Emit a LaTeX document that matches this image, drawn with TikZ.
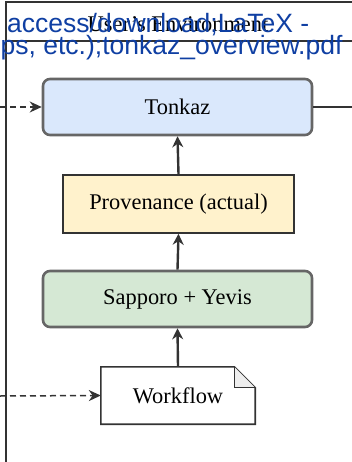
\documentclass[tikz,border=0pt]{standalone}
\usepackage{fontspec}
\setmainfont{Liberation Serif}
\newfontfamily\linkfont{Liberation Sans}
\usetikzlibrary{arrows.meta}
\definecolor{tkblue}{HTML}{DAE8FC}
\definecolor{tkyellow}{HTML}{FFF2CC}
\definecolor{tkgreen}{HTML}{D5E8D4}
\definecolor{tkgray}{HTML}{666666}
\definecolor{tkdark}{HTML}{333333}
\definecolor{tkfold}{HTML}{EEEEEE}
\definecolor{tklink}{HTML}{0F3FA3}

\begin{document}
\begin{tikzpicture}[x=1pt,y=-1pt,font=\fontsize{22.4}{26}\selectfont,
		layer/.style={draw=tkgray,line width=2.6pt,rounded corners=7pt,minimum width=269pt,minimum height=56pt},
		record/.style={draw=tkdark,fill=tkyellow,line width=1.6pt,minimum width=231pt,minimum height=58pt},
		flow/.style={draw=tkdark,line width=2.4pt,-{Stealth[length=11pt,width=11pt]}},
		feed/.style={draw=tkdark,line width=1.5pt,dash pattern=on 6pt off 4pt,-{Stealth[length=12pt,width=11pt]}},
		linktext/.style={text=tklink,font=\linkfont\fontsize{26.5}{30}\selectfont,inner sep=0pt,anchor=base west}]
			\useasboundingbox (0,0) rectangle (352,462);
			\clip (0,0) rectangle (352,462);
			\draw[tkdark,line width=1.4pt] (6,470) -- (6,2) -- (360,2);
			\draw[tkdark,line width=1.4pt] (6,41) -- (360,41);
			\node (envtitle) at (178,24) {User's Environment};
			\node[linktext] (dlone) at (7,33) {access/download;LaTeX -};
			\node[linktext] (dltwo) at (0.5,55) {ps, etc.);tonkaz\_overview.pdf};
			\node[layer,fill=tkblue] (tonkaz) at (177.5,107) {Tonkaz};
			\node[record] (prov) at (178.5,204) {Provenance (actual)};
			\node[layer,fill=tkgreen] (sapporo) at (177.5,299) {Sapporo + Yevis};
			\node[minimum width=154pt,minimum height=57pt] (workflow) at (178,395.5) {Workflow};
			\draw[tkdark,fill=white,line width=1.6pt] (workflow.south west) -- (workflow.north west) -- ([xshift=-21pt]workflow.north east) -- ([yshift=-21pt]workflow.north east) -- (workflow.south east) -- cycle;
			\draw[tkdark,fill=tkfold,line width=1.2pt] ([xshift=-21pt]workflow.north east) -- ([xshift=-21pt,yshift=-21pt]workflow.north east) -- ([yshift=-21pt]workflow.north east);
			\node at (workflow) {Workflow};
			\coordinate (tonkazin) at (0,107);
			\coordinate (tonkazout) at (352,107);
			\coordinate (workflowin) at (0,396);
			\draw[feed] (tonkazin) -- (tonkaz.west);
			\draw[tkdark,line width=1.4pt] (tonkaz.east) -- (tonkazout);
			\draw[flow] (prov.north) -- (tonkaz.south);
			\draw[flow] (sapporo.north) -- (prov.south);
			\draw[flow] (workflow.north) -- (sapporo.south);
			\draw[feed] (workflowin) -- (workflow.west);
		\end{tikzpicture}
\end{document}
